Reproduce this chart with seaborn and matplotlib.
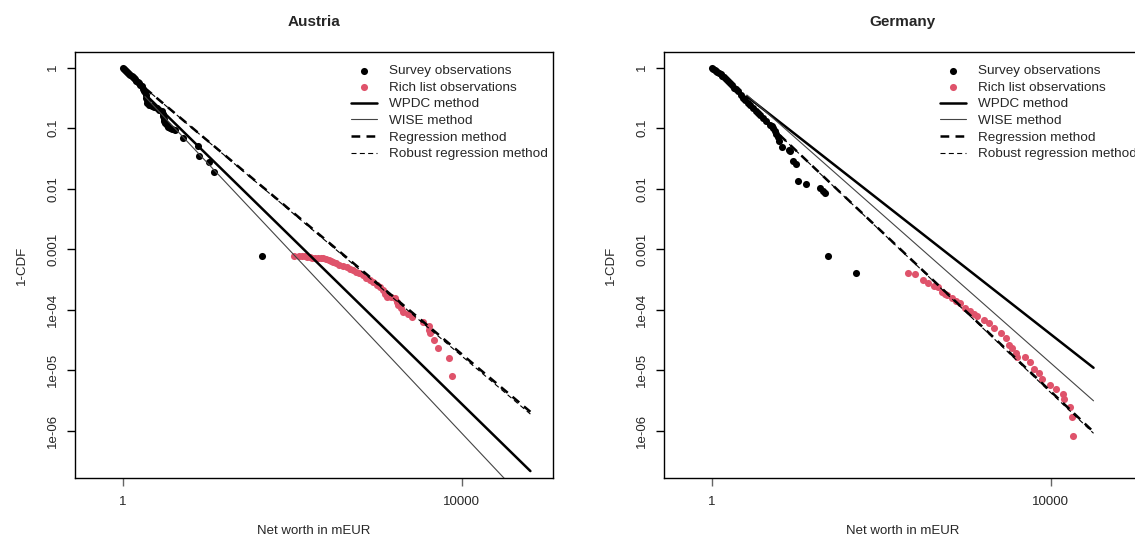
import numpy as np
import pandas as pd
import matplotlib
matplotlib.use("Agg")
import matplotlib.pyplot as plt
import seaborn as sns

# ---------------- data ----------------
titles = ["Austria", "Germany"]
x_ticks = [1, 10000]
x_tick_labels = ["1", "10000"]
y_ticks = [1, 0.1, 0.01, 0.001, 1e-4, 1e-5, 1e-6]
y_tick_labels = ["1", "0.1", "0.01", "0.001", "1e-04", "1e-05", "1e-06"]
legend_labels = ["Survey observations", "Rich list observations", "WPDC method",
                 "WISE method", "Regression method", "Robust regression method"]

# Austria survey observations
at_survey_x = [1.00, 1.03, 1.06, 1.09, 1.12, 1.15, 1.19, 1.23, 1.27, 1.31, 1.35, 1.40,
               1.45, 1.50, 1.56, 1.62, 1.68, 1.75, 1.80, 1.83, 1.86, 1.88, 1.92, 1.95,
               2.05, 2.20, 2.35, 2.52, 2.70, 2.88, 2.95, 3.01, 3.04, 3.07, 3.15, 3.30,
               3.45, 3.61, 3.85, 4.14, 5.10, 7.80, 8.01, 10.4, 11.9, 44.4]
at_survey_y = [1.00, 0.96, 0.92, 0.89, 0.86, 0.83, 0.79, 0.76, 0.72, 0.69, 0.67, 0.64,
               0.61, 0.58, 0.55, 0.52, 0.49, 0.45, 0.42, 0.40, 0.36, 0.32, 0.29, 0.26,
               0.245, 0.23, 0.222, 0.216, 0.20, 0.19, 0.17, 0.157, 0.143, 0.130, 0.122, 0.114,
               0.106, 0.101, 0.097, 0.094, 0.069, 0.050, 0.0343, 0.0276, 0.0189, 0.00078]
# Austria rich list observations
at_rich_x = [105, 120, 129, 140, 150, 160, 170, 185, 203, 220, 233, 250, 270, 290, 305,
             330, 360, 401, 440, 480, 526, 570, 620, 690, 750, 828, 900, 993, 1090, 1188,
             1250, 1303, 1450, 1633, 1700, 1786, 1900, 2047, 2300, 2572, 3524, 4113, 4150,
             4200, 4711, 5294, 7142, 7687]
at_rich_y = [7.8e-4, 7.7e-4, 7.7e-4, 7.6e-4, 7.5e-4, 7.4e-4, 7.3e-4, 7.25e-4, 7.2e-4,
             7.1e-4, 7.05e-4, 6.8e-4, 6.6e-4, 6.4e-4, 6.2e-4, 5.9e-4, 5.6e-4, 5.3e-4,
             5.0e-4, 4.75e-4, 4.5e-4, 4.2e-4, 4.0e-4, 3.75e-4, 3.4e-4, 3.1e-4, 2.85e-4,
             2.56e-4, 2.35e-4, 2.12e-4, 1.85e-4, 1.64e-4, 1.6e-4, 1.54e-4, 1.35e-4, 1.2e-4,
             1.05e-4, 9.3e-5, 8.5e-5, 7.7e-5, 6.3e-5, 5.4e-5, 4.6e-5, 4.1e-5, 3.2e-5,
             2.35e-5, 1.6e-5, 8.1e-6]
# Austria fitted Pareto lines (end points)
at_line_x = [1.83, 64600]
at_wpdc_y = [0.367, 2.16e-7]
at_wise_y = [0.334, 5.69e-8]
at_reg_y = [0.461, 2.06e-6]
at_rob_y = [0.461, 1.89e-6]

# Germany survey observations
de_survey_x = [1.00, 1.04, 1.08, 1.12, 1.17, 1.22, 1.28, 1.34, 1.41, 1.49, 1.57, 1.66,
               1.75, 1.85, 1.95, 2.05, 2.20, 2.35, 2.50, 2.69, 2.85, 3.08, 3.30, 3.50,
               3.70, 4.05, 4.40, 4.86, 5.10, 5.31, 5.57, 5.80, 6.09, 6.26, 6.68, 8.10,
               8.38, 9.16, 9.86, 10.5, 12.9, 19.0, 20.8, 21.7, 23.8, 50.2]
de_survey_y = [1.00, 0.96, 0.93, 0.89, 0.85, 0.82, 0.78, 0.74, 0.70, 0.65, 0.60, 0.55,
               0.51, 0.47, 0.44, 0.41, 0.36, 0.32, 0.29, 0.26, 0.24, 0.215, 0.195, 0.18,
               0.167, 0.148, 0.13, 0.114, 0.107, 0.101, 0.089, 0.081, 0.073, 0.061, 0.049,
               0.043, 0.0415, 0.0284, 0.0256, 0.0132, 0.0120, 0.0103, 0.0091, 0.0085,
               7.8e-4, 4.1e-4]
# Germany rich list observations
de_rich_x = [205, 253, 308, 353, 416, 464, 523, 560, 599, 687, 760, 845, 986, 1130, 1250,
             1357, 1625, 1862, 2134, 2560, 2933, 3211, 3521, 3853, 4035, 4923, 5688, 6345,
             7272, 7976, 9817, 11460, 14130, 14360, 16900, 18060, 18550]
de_rich_y = [4.09e-4, 3.85e-4, 3.10e-4, 2.79e-4, 2.46e-4, 2.34e-4, 1.99e-4, 1.85e-4,
             1.75e-4, 1.54e-4, 1.40e-4, 1.28e-4, 1.08e-4, 9.6e-5, 8.6e-5, 7.9e-5, 6.9e-5,
             6.1e-5, 4.93e-5, 4.07e-5, 3.37e-5, 2.61e-5, 2.30e-5, 1.90e-5, 1.67e-5,
             1.63e-5, 1.38e-5, 1.07e-5, 8.9e-6, 7.1e-6, 5.8e-6, 4.9e-6, 4.0e-6, 3.3e-6,
             2.5e-6, 1.66e-6, 8.2e-7]
# Germany fitted Pareto lines (end points)
de_line_x = [2.6, 32000]
de_wpdc_y = [0.336, 1.10e-5]
de_wise_y = [0.354, 3.13e-6]
de_reg_y = [0.251, 9.6e-7]
de_rob_y = [0.251, 9.1e-7]

# ---------------- style ----------------
sns.set_style("white")
plt.rcParams["font.family"] = ["Liberation Sans", "DejaVu Sans"]
plt.rcParams["font.size"] = 9.5

RED = "#DF536B"
fig = plt.figure(figsize=(11.35, 5.44), dpi=100)
W, H = 1135.0, 544.0
ax_l = fig.add_axes([75 / W, (H - 478) / H, 478 / W, 426 / H])
ax_r = fig.add_axes([664 / W, (H - 478) / H, 478 / W, 426 / H])

panels = [
    (ax_l, at_survey_x, at_survey_y, at_rich_x, at_rich_y, at_line_x,
     at_wpdc_y, at_wise_y, at_reg_y, at_rob_y),
    (ax_r, de_survey_x, de_survey_y, de_rich_x, de_rich_y, de_line_x,
     de_wpdc_y, de_wise_y, de_reg_y, de_rob_y),
]

for i, (ax, sx, sy, rx, ry, lx, wy, wiy, rgy, rby) in enumerate(panels):
    sns.scatterplot(x=sx, y=sy, ax=ax, color="black", s=26, linewidth=0,
                    label=legend_labels[0], zorder=3)
    sns.scatterplot(x=rx, y=ry, ax=ax, color=RED, s=26, linewidth=0,
                    label=legend_labels[1], zorder=3)
    sns.lineplot(x=lx, y=wy, ax=ax, color="black", linewidth=1.8,
                 label=legend_labels[2], zorder=4)
    sns.lineplot(x=lx, y=wiy, ax=ax, color="#444444", linewidth=0.8,
                 label=legend_labels[3], zorder=4)
    sns.lineplot(x=lx, y=rgy, ax=ax, color="black", linewidth=1.8,
                 dashes=False, linestyle=(0, (3.5, 2.5)),
                 label=legend_labels[4], zorder=4)
    sns.lineplot(x=lx, y=rby, ax=ax, color="black", linewidth=0.8,
                 dashes=False, linestyle=(0, (4.5, 3)),
                 label=legend_labels[5], zorder=4)

    ax.set_xscale("log")
    ax.set_yscale("log")
    ax.set_xlim(10 ** -0.563, 10 ** 5.077)
    ax.set_ylim(10 ** -6.78, 10 ** 0.26)
    ax.set_xticks(x_ticks)
    ax.set_xticklabels(x_tick_labels)
    ax.set_yticks(y_ticks)
    ax.set_yticklabels(y_tick_labels, rotation=90, va="center")
    ax.minorticks_off()
    ax.tick_params(axis="x", direction="out", length=6, width=1, pad=7,
                   color="#666666", labelsize=9.5, bottom=True)
    ax.tick_params(axis="y", direction="out", length=6, width=1, pad=5.5,
                   color="black", labelsize=9.5, left=True)
    for sp in ax.spines.values():
        sp.set_visible(True)
        sp.set_color("black")
        sp.set_linewidth(1)
    ax.set_title(titles[i], fontsize=11, fontweight="bold", pad=19)
    ax.set_xlabel("Net worth in mEUR", fontsize=9.5, labelpad=12)
    ax.set_ylabel("1-CDF", fontsize=9.5, labelpad=14)

    handles, labels = ax.get_legend_handles_labels()
    leg = ax.legend(handles, labels, loc="upper left",
                    bbox_to_anchor=(0.5774, 0.970), frameon=False,
                    borderpad=0, borderaxespad=0, handlelength=1.9,
                    handletextpad=0.9, labelspacing=0.31, fontsize=9.7,
                    scatterpoints=1, markerscale=1.0)

fig.savefig("out.png", dpi=100)
